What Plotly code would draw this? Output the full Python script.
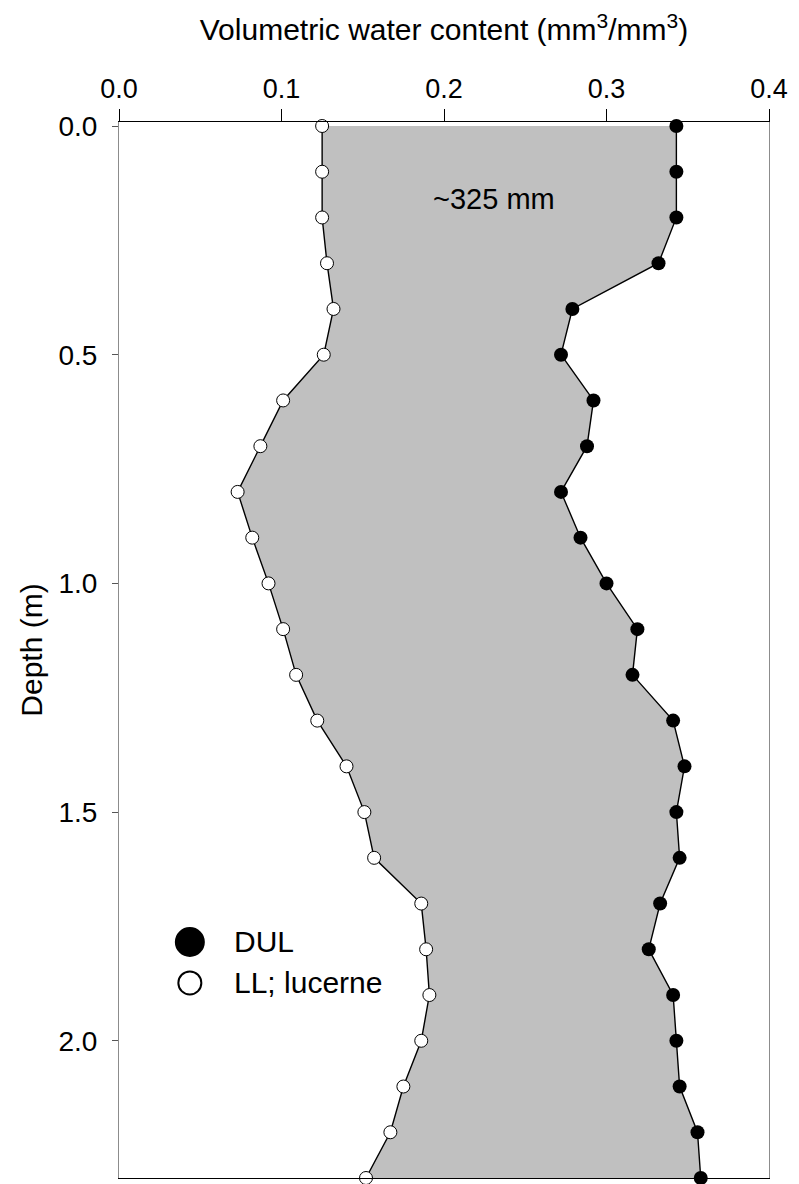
import plotly.graph_objects as go

# Soil profile depths (m) and volumetric water content (mm3/mm3)
depth = [0.0, 0.1, 0.2, 0.3, 0.4, 0.5, 0.6, 0.7, 0.8, 0.9, 1.0, 1.1,
         1.2, 1.3, 1.4, 1.5, 1.6, 1.7, 1.8, 1.9, 2.0, 2.1, 2.2, 2.3]

# Drained upper limit
dul = [0.343, 0.343, 0.343, 0.332, 0.279, 0.272, 0.292, 0.288, 0.272, 0.284,
       0.300, 0.319, 0.316, 0.341, 0.348, 0.343, 0.345, 0.333, 0.326, 0.341,
       0.343, 0.345, 0.356, 0.358]

# Lower limit of extraction under lucerne
ll_lucerne = [0.125, 0.125, 0.125, 0.128, 0.132, 0.126, 0.101, 0.087, 0.073, 0.082,
              0.092, 0.101, 0.109, 0.122, 0.140, 0.151, 0.157, 0.186, 0.189, 0.191,
              0.186, 0.175, 0.167, 0.152]

x_ticks = [0.0, 0.1, 0.2, 0.3, 0.4]
y_ticks = [0.0, 0.5, 1.0, 1.5, 2.0]

FONT = "Liberation Sans, Arial, sans-serif"

fig = go.Figure()

# LL profile (left edge of the available-water band)
fig.add_trace(go.Scatter(
    x=ll_lucerne, y=depth, mode="lines+markers", name="LL; lucerne",
    line=dict(color="black", width=1.4),
    marker=dict(symbol="circle", size=13, color="white",
                line=dict(color="black", width=1)),
    cliponaxis=False, showlegend=False,
))

# DUL profile, shaded back to the LL profile
fig.add_trace(go.Scatter(
    x=dul, y=depth, mode="lines+markers", name="DUL",
    fill="tonextx", fillcolor="#c0c0c0",
    line=dict(color="black", width=1.4),
    marker=dict(symbol="circle", size=14, color="black",
                line=dict(color="black", width=0)),
    cliponaxis=False, showlegend=False,
))

# Custom legend: large symbols with labels in the lower-left corner
legend_items = [("DUL", "black", 0.2235, 28), ("LL; lucerne", "white", 0.1847, 23)]
shapes = []
annotations = []
for label, fill, py, size in legend_items:
    shapes.append(dict(
        type="circle", xref="paper", yref="paper",
        xsizemode="pixel", ysizemode="pixel",
        xanchor=0.109, yanchor=py,
        x0=-size / 2, x1=size / 2, y0=-size / 2, y1=size / 2,
        fillcolor=fill, line=dict(color="black", width=2),
    ))
    annotations.append(dict(
        xref="paper", yref="paper", x=0.1736, y=py,
        xanchor="left", yanchor="middle", showarrow=False,
        text=label, font=dict(family=FONT, size=30, color="black"),
    ))

# Plant-available water label inside the shaded band
annotations.append(dict(
    x=0.231, y=0.16, xref="x", yref="y", showarrow=False,
    text="~325 mm", font=dict(family=FONT, size=29, color="black"),
))

fig.update_layout(
    width=799, height=1184, autosize=False,
    margin=dict(l=119, r=30, t=122, b=6, pad=0),
    paper_bgcolor="white", plot_bgcolor="white",
    font=dict(family=FONT, color="black"),
    shapes=shapes, annotations=annotations,
    xaxis=dict(
        side="top", range=[0, 0.4], tickvals=x_ticks, tickformat=".1f",
        ticks="outside", ticklen=12, tickwidth=1, tickcolor="black",
        showline=True, linecolor="black", linewidth=1, mirror=True,
        showgrid=False, zeroline=False,
        tickfont=dict(family=FONT, size=27, color="black"),
        title=dict(text="Volumetric water content (mm<sup>3</sup>/mm<sup>3</sup>)",
                   font=dict(family=FONT, size=30, color="black"), standoff=24),
    ),
    yaxis=dict(
        range=[2.3, -0.00875], tickvals=y_ticks, tickformat=".1f",
        ticks="outside", ticklen=6, tickwidth=1, tickcolor="#555555",
        ticklabelstandoff=9,
        showline=True, linecolor="#8c8c8c", linewidth=1, mirror=True,
        showgrid=False, zeroline=False,
        tickfont=dict(family=FONT, size=28, color="black"),
        title=dict(text="Depth (m)", font=dict(family=FONT, size=30, color="black"),
                   standoff=6),
    ),
)

fig.write_html("out.html")
